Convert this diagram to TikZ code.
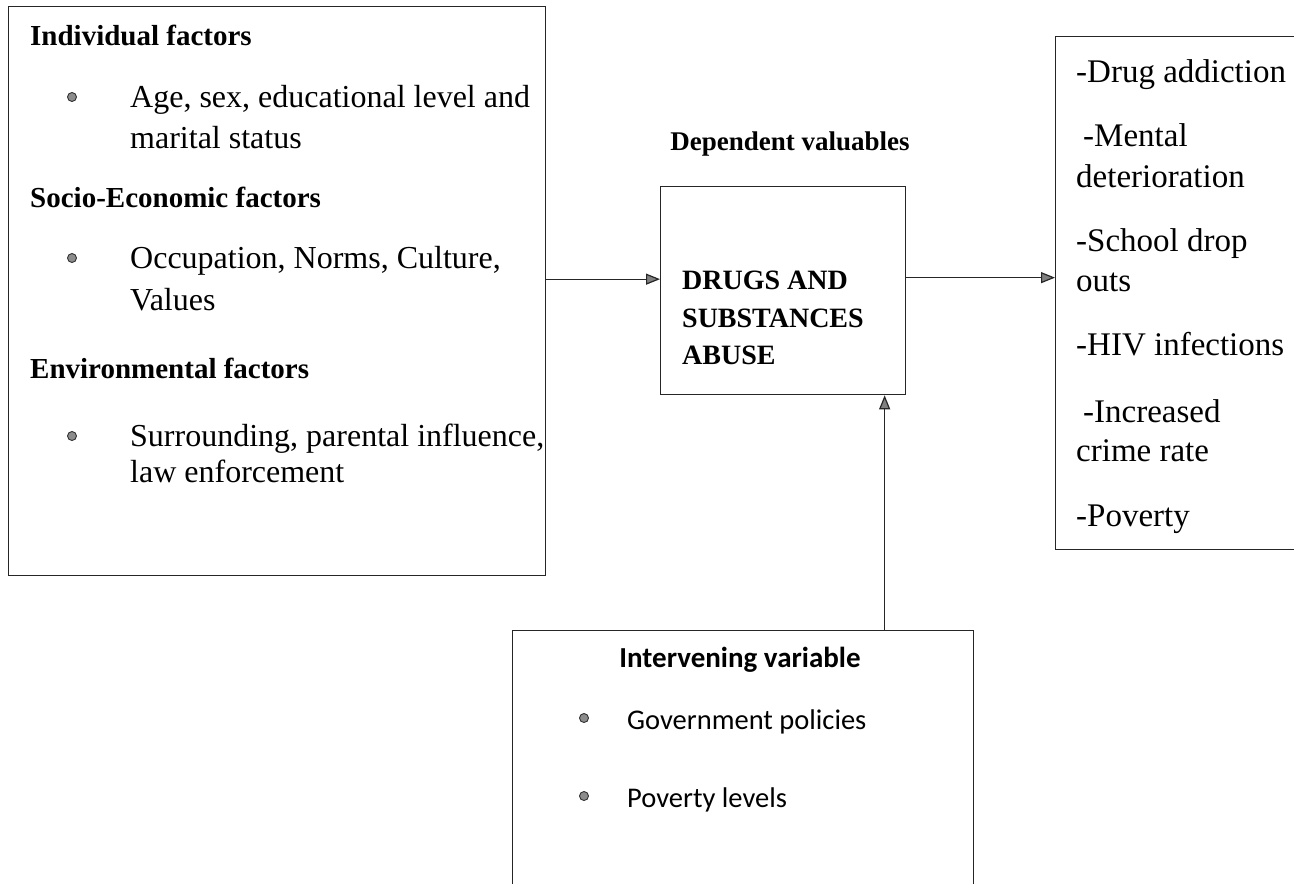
\documentclass[tikz,border=0pt]{standalone}
\usepackage{fontspec}
\setmainfont{Liberation Serif}
\newfontfamily\calib{Carlito}
\usetikzlibrary{arrows.meta}
\begin{document}
\begin{tikzpicture}[x=1pt,y=-1pt,
  box/.style={draw=black!85, line width=1.3pt, inner sep=0pt, anchor=north west},
  txt/.style={anchor=base west, inner sep=0pt, font=\fontsize{32}{40}\selectfont},
  hd/.style={anchor=base west, inner sep=0pt, font=\fontsize{29}{36}\selectfont\bfseries},
  mtxt/.style={anchor=base west, inner sep=0pt, font=\fontsize{28}{36}\selectfont\bfseries},
  rtxt/.style={anchor=base west, inner sep=0pt, font=\fontsize{33}{40}\selectfont},
  btxt/.style={anchor=base west, inner sep=0pt, font=\calib\fontsize{28.5}{34}\selectfont},
  bul/.style={circle, draw=black!80, fill=black!45, line width=0.9pt, minimum size=9pt, inner sep=0pt},
  conn/.style={draw=black!85, line width=1.2pt, -{Triangle[length=14pt,width=11pt,fill=black!50]}}
]
\useasboundingbox (0,0) rectangle (1294,884);
\clip (0,0) rectangle (1294,884);
\fill[white] (0,0) rectangle (1294,884);

% boxes
\node[box, minimum width=537pt, minimum height=569pt] (L) at (8,6) {};
\node[box, minimum width=245pt, minimum height=208pt] (M) at (660,186) {};
\node[box, minimum width=260pt, minimum height=513pt] (R) at (1055,36) {};
\node[box, minimum width=461pt, minimum height=280pt] (B) at (512,630) {};

% left box text
\node[hd] (h1) at (30,45) {Individual factors};
\node[bul] (b1) at (72,97) {};
\node[txt] (t1) at (130,107) {Age, sex, educational level and};
\node[txt] (t1b) at (130,148) {marital status};
\node[hd] (h2) at (30,207) {Socio-Economic factors};
\node[bul] (b2) at (72,258) {};
\node[txt] (t2) at (130,268) {Occupation, Norms, Culture,};
\node[txt] (t2b) at (130,310) {Values};
\node[hd] (h3) at (30,378) {Environmental factors};
\node[bul] (b3) at (72,436) {};
\node[txt] (t3) at (130,446) {Surrounding, parental influence,};
\node[txt] (t3b) at (130,482) {law enforcement};

% middle
\node[anchor=base, inner sep=0pt, font=\fontsize{27}{32}\selectfont\bfseries] (dv) at (790,150) {Dependent valuables};
\node[mtxt] (m1) at (682,289) {DRUGS AND};
\node[mtxt] (m2) at (682,327) {SUBSTANCES};
\node[mtxt] (m3) at (682,364) {ABUSE};

% right box text
\node[rtxt] (r1) at (1076,82) {-Drug addiction};
\node[rtxt] (r2) at (1083,146) {-Mental};
\node[rtxt] (r3) at (1076,187) {deterioration};
\node[rtxt] (r4) at (1076,251) {-School drop};
\node[rtxt] (r5) at (1076,291) {outs};
\node[rtxt] (r6) at (1076,355) {-HIV infections};
\node[rtxt] (r7) at (1083,422) {-Increased};
\node[rtxt] (r8) at (1076,461) {crime rate};
\node[rtxt] (r9) at (1076,526) {-Poverty};

% bottom box text
\node[anchor=base, inner sep=0pt, font=\calib\fontsize{29}{34}\selectfont\bfseries] (iv) at (740,667) {Intervening variable};
\node[bul] (b4) at (584,718) {};
\node[btxt] (g1) at (627,729) {Government policies};
\node[bul] (b5) at (584,796) {};
\node[btxt] (g2) at (627,807) {Poverty levels};

% connectors
\draw[conn] ([yshift=12pt]L.east) -- ([yshift=12pt]L.east -| M.west);
\draw[conn] ([yshift=13pt]M.east) -- ([yshift=13pt]M.east -| R.west);
\draw[conn] ([xshift=141.5pt]B.north) -- ([xshift=141.5pt]B.north |- M.south);
\end{tikzpicture}
\end{document}
